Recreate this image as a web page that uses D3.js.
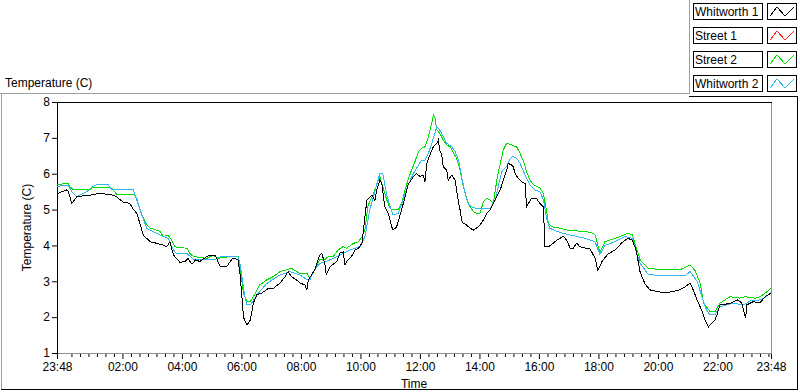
<!DOCTYPE html>
<html lang="en">
<head>
<meta charset="UTF-8">
<title>Temperature</title>
<script src="https://d3js.org/d3.v7.min.js"></script>
<style>
    body { margin: 0; background: #fff; }
    text { font-family: "Liberation Sans", Arial, sans-serif; font-size: 12px; fill: #000; }
    .trace { shape-rendering: crispEdges; }
</style>
</head>
<body>
<svg width="800" height="392"></svg>
<script>
// minutes after 23:48, temperature (C)
var whitworth1 = [[0,5.43],[10,5.5],[20,5.55],[22,5.53],[30,5.17],[40,5.36],[52,5.38],[67,5.4],[83,5.45],[101,5.43],[107,5.43],
    [120,5.36],[133,5.21],[147,5.17],[154,5.0],[161,4.9],[167,4.62],[174,4.29],[188,4.1],[201,4.06],[214,4.01],[221,3.96],
    [228,4.1],[231,3.93],[235,3.73],[241,3.64],[248,3.53],[258,3.55],[264,3.64],[272,3.48],[280,3.6],[288,3.55],[302,3.69],
    [309,3.73],[319,3.73],[329,3.41],[342,3.41],[355,3.65],[365,3.6],[369,3.23],[373,2.57],[376,2.0],[383,1.78],[390,1.92],
    [396,2.39],[403,2.62],[413,2.67],[426,2.8],[436,2.8],[450,2.95],[460,3.13],[466,3.27],[473,3.13],[483,3.04],[490,2.95],
    [500,2.9],[504,2.76],[507,3.04],[520,3.32],[530,3.73],[534,3.78],[540,3.5],[543,3.18],[551,3.41],[564,3.55],[571,3.79],
    [577,3.82],[581,3.45],[584,3.55],[594,3.69],[601,3.87],[608,3.92],[615,4.06],[618,4.43],[625,5.27],[635,5.4],[641,5.25],
    [645,5.55],[651,5.82],[655,5.73],[661,5.08],[668,4.9],[675,4.52],[678,4.43],[685,4.52],[692,4.85],[695,4.99],[702,5.36],
    [708,5.69],[712,5.78],[719,5.92],[725,6.01],[732,5.92],[739,5.96],[742,5.78],[746,6.29],[752,6.52],[756,6.66],[759,6.75],
    [766,6.85],[769,6.94],[772,6.66],[776,6.52],[779,6.2],[786,6.1],[789,5.82],[796,5.96],[803,5.82],[810,5.17],[813,4.99],
    [816,4.71],[819,4.62],[826,4.57],[833,4.48],[840,4.43],[846,4.48],[853,4.57],[860,4.71],[867,4.9],[873,4.99],[880,5.17],
    [887,5.36],[894,5.55],[900,5.82],[907,6.1],[910,6.29],[917,6.24],[920,6.2],[924,6.01],[930,5.87],[937,5.78],[944,5.73],
    [947,5.08],[957,5.31],[967,5.31],[974,5.17],[981,5.08],[984,3.96],[991,3.96],[1001,4.06],[1008,4.15],[1021,4.25],
    [1028,4.15],[1035,3.92],[1041,3.92],[1048,4.06],[1055,3.96],[1075,3.9],[1085,3.65],[1091,3.3],[1099,3.55],[1111,3.76],
    [1125,3.87],[1139,4.07],[1151,4.2],[1160,4.15],[1168,3.87],[1176,3.26],[1186,2.92],[1196,2.76],[1216,2.7],[1236,2.7],
    [1256,2.76],[1266,2.84],[1277,2.95],[1283,2.76],[1291,2.48],[1300,2.2],[1307,1.92],[1314,1.73],[1320,1.83],[1327,1.92],
    [1331,2.06],[1337,2.34],[1357,2.38],[1373,2.48],[1381,2.4],[1389,1.97],[1391,2.34],[1404,2.43],[1418,2.4],[1428,2.57],
    [1440,2.67]];

var street1 = [];   // no trace visible in the plot

var street2 = [[0,5.7],[23,5.73],[26,5.64],[33,5.55],[67,5.55],[70,5.62],[93,5.62],[110,5.6],[120,5.43],[154,5.43],
    [161,5.31],[167,4.99],[181,4.57],[188,4.48],[208,4.39],[214,4.25],[224,4.29],[231,4.15],[238,3.96],[262,3.92],
    [268,3.78],[275,3.69],[302,3.64],[315,3.73],[325,3.64],[349,3.69],[366,3.69],[369,3.41],[376,2.67],[383,2.43],
    [390,2.43],[396,2.57],[409,2.9],[423,3.04],[436,3.13],[450,3.27],[463,3.32],[473,3.36],[490,3.22],[504,3.22],
    [510,3.08],[520,3.32],[530,3.6],[540,3.6],[547,3.69],[557,3.69],[567,3.87],[577,3.97],[584,3.92],[598,4.06],[608,4.1],
    [615,4.24],[621,4.43],[627,5.1],[637,5.4],[651,5.92],[657,5.64],[665,5.27],[672,5.03],[678,4.99],[688,4.99],[695,5.17],
    [702,5.55],[708,5.82],[715,6.1],[722,6.34],[729,6.62],[735,6.71],[742,6.75],[749,7.03],[756,7.41],[759,7.64],[762,7.59],
    [766,7.22],[772,7.13],[779,6.94],[786,6.8],[793,6.75],[800,6.57],[806,6.43],[813,6.1],[819,5.69],[826,5.31],[833,5.08],
    [840,4.94],[846,4.9],[853,4.9],[856,5.03],[860,5.22],[867,5.31],[873,5.27],[880,5.17],[887,5.82],[894,6.29],[900,6.66],
    [907,6.85],[917,6.8],[927,6.75],[934,6.57],[941,6.34],[947,6.06],[954,5.82],[961,5.69],[974,5.6],[981,5.45],[988,4.9],
    [991,4.62],[998,4.52],[1014,4.48],[1028,4.43],[1041,4.43],[1055,4.39],[1075,4.37],[1085,4.3],[1095,3.8],[1105,4.1],
    [1115,4.15],[1136,4.25],[1151,4.34],[1160,4.3],[1176,3.6],[1192,3.37],[1216,3.32],[1256,3.32],[1277,3.45],[1287,3.3],
    [1297,2.95],[1304,2.39],[1310,2.29],[1317,2.15],[1327,2.15],[1337,2.39],[1357,2.57],[1377,2.53],[1388,2.57],[1408,2.53],
    [1418,2.57],[1428,2.67],[1440,2.8]];

var whitworth2 = [[0,5.65],[22,5.68],[30,5.5],[40,5.36],[60,5.5],[73,5.65],[83,5.71],[103,5.71],[110,5.55],[154,5.55],
    [161,5.27],[171,4.85],[181,4.48],[194,4.39],[214,4.25],[224,4.2],[235,3.87],[241,3.78],[262,3.78],[275,3.61],[319,3.61],
    [329,3.68],[365,3.68],[369,3.5],[379,2.57],[383,2.34],[390,2.34],[403,2.62],[423,2.94],[450,3.18],[470,3.27],[490,3.18],
    [504,3.04],[510,3.04],[517,3.27],[530,3.5],[551,3.6],[571,3.73],[591,3.87],[611,3.97],[621,4.24],[631,5.0],[641,5.5],
    [651,6.01],[657,6.01],[665,5.41],[672,5.08],[678,4.85],[688,4.9],[698,5.27],[708,5.69],[719,6.01],[729,6.24],[735,6.38],
    [742,6.38],[749,6.57],[756,6.85],[766,7.31],[772,7.22],[779,7.03],[786,6.85],[796,6.75],[803,6.62],[810,6.38],[816,5.92],
    [823,5.45],[829,5.17],[836,5.08],[846,5.03],[873,5.03],[884,5.27],[890,5.64],[897,6.06],[907,6.2],[914,6.43],[920,6.48],
    [927,6.43],[934,6.29],[941,6.06],[947,5.87],[954,5.69],[964,5.55],[974,5.5],[981,5.27],[988,4.71],[994,4.48],[1008,4.39],
    [1021,4.34],[1035,4.29],[1048,4.25],[1065,4.2],[1085,4.1],[1095,3.75],[1105,4.0],[1125,4.1],[1145,4.25],[1160,4.2],
    [1176,3.5],[1192,3.2],[1216,3.15],[1266,3.15],[1277,3.27],[1291,3.0],[1300,2.6],[1310,2.2],[1317,2.06],[1327,2.06],
    [1337,2.29],[1364,2.39],[1385,2.34],[1398,2.45],[1418,2.48],[1428,2.55],[1440,2.7]];

var seriesNames = ["Whitworth 1", "Street 1", "Street 2", "Whitworth 2"];
var seriesColors = ["#000000", "#ff2020", "#00e000", "#33b4f4"];
var yTicks = [1, 2, 3, 4, 5, 6, 7, 8];

var svg = d3.select("svg");
var plotL = 57, plotR = 771, plotT = 102, plotB = 353;

var t0 = new Date(2020, 0, 1, 23, 48);
var t1 = new Date(2020, 0, 2, 23, 48);
function toDate(m) { return new Date(t0.getTime() + m * 60000); }

var x = d3.scaleTime().domain([t0, t1]).range([plotL, plotR]);
var y = d3.scaleLinear().domain([1, 8]).range([plotB, plotT]);

// outer panel
svg.append("line").attr("x1", 0).attr("x2", 689).attr("y1", 93.5).attr("y2", 93.5).attr("stroke", "#a0a0a0");
svg.append("line").attr("x1", 1.5).attr("x2", 1.5).attr("y1", 93).attr("y2", 390).attr("stroke", "#a0a0a0");
svg.append("line").attr("x1", 1).attr("x2", 798).attr("y1", 389.5).attr("y2", 389.5).attr("stroke", "#000");
svg.append("line").attr("x1", 797.5).attr("x2", 797.5).attr("y1", 96).attr("y2", 390).attr("stroke", "#000");
svg.append("line").attr("x1", 689.5).attr("x2", 689.5).attr("y1", 0).attr("y2", 94).attr("stroke", "#a0a0a0");
svg.append("line").attr("x1", 689).attr("x2", 798).attr("y1", 96.5).attr("y2", 96.5).attr("stroke", "#000");

svg.append("text").attr("x", 5).attr("y", 87).text("Temperature (C)");

// plot frame
svg.append("rect").attr("x", plotL).attr("y", plotT).attr("width", plotR - plotL).attr("height", plotB - plotT).attr("fill", "#fff");
svg.append("line").attr("x1", plotR + 0.5).attr("x2", plotR + 0.5).attr("y1", plotT).attr("y2", plotB).attr("stroke", "#909090");
svg.append("line").attr("x1", plotL).attr("x2", plotR + 1).attr("y1", plotB + 0.5).attr("y2", plotB + 0.5).attr("stroke", "#909090");
svg.append("line").attr("x1", plotL).attr("x2", plotR + 1).attr("y1", plotT + 0.5).attr("y2", plotT + 0.5).attr("stroke", "#000");
svg.append("line").attr("x1", plotL + 0.5).attr("x2", plotL + 0.5).attr("y1", plotT).attr("y2", plotB + 1).attr("stroke", "#000");

// x axis: major every 2 h plus both ends, minor in between
var majors = [t0];
for (var h = 2; h <= 22; h += 2) majors.push(new Date(2020, 0, 2, h, 0));
majors.push(t1);
var minors = [];
var step = 120 / 7 * 60000;
var base = new Date(2020, 0, 2, 2, 0).getTime();
for (var k = -8; k <= 80; k++) {
    var tt = base + k * step;
    if (tt > t0.getTime() + 60000 && tt < t1.getTime() - 60000 && k % 7 !== 0) minors.push(new Date(tt));
}

var xMinor = svg.append("g").attr("transform", "translate(0," + (plotB + 1) + ")")
    .call(d3.axisBottom(x).tickValues(minors).tickSize(3).tickFormat(""));
xMinor.select(".domain").remove();

var xAxis = svg.append("g").attr("transform", "translate(0," + (plotB + 1) + ")")
    .call(d3.axisBottom(x).tickValues(majors).tickSize(5).tickPadding(3).tickFormat(d3.timeFormat("%H:%M")));
xAxis.select(".domain").remove();
xAxis.selectAll("text").style("font-size", "12px").attr("fill", "#000");

var yAxis = svg.append("g").attr("transform", "translate(" + plotL + ",0)")
    .call(d3.axisLeft(y).tickValues(yTicks).tickSize(5).tickPadding(2).tickFormat(d3.format("d")));
yAxis.select(".domain").remove();
yAxis.selectAll("text").style("font-size", "12px").attr("fill", "#000");

svg.append("text").attr("x", (plotL + plotR) / 2).attr("y", 388).attr("text-anchor", "middle").text("Time");
svg.append("text").attr("transform", "translate(31," + ((plotT + plotB) / 2) + ") rotate(-90)")
    .attr("text-anchor", "middle").text("Temperature (C)");

// traces
var line = d3.line()
    .x(function(d) { return x(toDate(d[0])); })
    .y(function(d) { return y(d[1]); });

var plot = svg.append("g");
[whitworth1, street1, street2, whitworth2].forEach(function(s, i) {
    if (!s.length) return;
    plot.append("path").datum(s)
        .attr("class", "trace")
        .attr("fill", "none")
        .attr("stroke", seriesColors[i])
        .attr("stroke-width", 1)
        .attr("d", line);
});
// black trace is drawn on top
plot.select("path").raise();

// legend
var leg = svg.append("g");
seriesNames.forEach(function(name, i) {
    var ry = 3 + i * 24;
    leg.append("rect").attr("x", 693.5).attr("y", ry + 0.5).attr("width", 69).attr("height", 16)
        .attr("fill", "#fff").attr("stroke", "#000");
    leg.append("text").attr("x", 695).attr("y", ry + 13).text(name);
    leg.append("rect").attr("x", 767.5).attr("y", ry + 0.5).attr("width", 29).attr("height", 16)
        .attr("fill", "#fff").attr("stroke", "#000");
    var zz = [[770, ry + 13], [777, ry + 4], [785, ry + 13], [794, ry + 4]];
    leg.append("path").attr("class", "trace").attr("d", d3.line()(zz)).attr("fill", "none").attr("stroke", seriesColors[i]);
});
</script>
</body>
</html>
